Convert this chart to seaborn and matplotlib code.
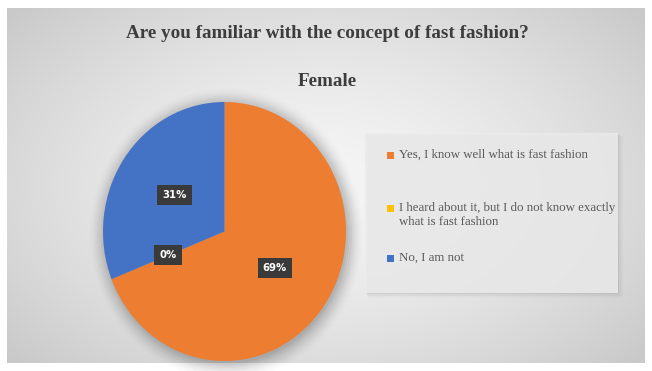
import numpy as np
import pandas as pd
import matplotlib
matplotlib.use("Agg")
import matplotlib.pyplot as plt
from matplotlib.patches import Ellipse, Rectangle
import seaborn as sns

# Survey answers (female respondents)
answers = [
    "Yes, I know well what is fast fashion",
    "I heard about it, but I do not know exactly\nwhat is fast fashion",
    "No, I am not",
]
shares = [69, 0, 31]
colors = ["#ED7D31", "#FFC000", "#4472C4"]
chart_title = "Are you familiar with the concept of fast fashion?"
subtitle = "Female"

df = pd.DataFrame({"answer": answers, "share": shares, "color": colors})

sns.set_theme(style="white")
W, H = 652, 371
fig = plt.figure(figsize=(W / 100, H / 100), dpi=100)
fig.patch.set_facecolor("white")


def fx(px):
    return px / W


def fy(py):
    return 1 - py / H


# Chart area with a soft radial gradient
x0, x1, y0, y1 = 7, 645, 8, 363
bg = fig.add_axes([fx(x0), fy(y1), fx(x1 - x0), (y1 - y0) / H])
bg.set_axis_off()
gx, gy = np.meshgrid(np.linspace(-1, 1, 400), np.linspace(-1, 1, 220))
r = np.sqrt((gx * 0.95) ** 2 + (gy * 0.85) ** 2)
r = np.clip(r / 1.25, 0, 1)
lum = 0.96 - 0.17 * r ** 1.5
bg.imshow(np.dstack([lum, lum, lum]), extent=[0, 1, 0, 1], aspect="auto",
          interpolation="bilinear")
bg.set_xlim(0, 1)
bg.set_ylim(0, 1)

# Titles
fig.text(fx(327), fy(33), chart_title, ha="center", va="center",
         fontsize=13.8, fontweight="bold", family="Liberation Serif", color="#3d3d3d")
fig.text(fx(327), fy(82), subtitle, ha="center", va="center",
         fontsize=13.8, fontweight="bold", family="Liberation Serif", color="#3d3d3d")

# Pie
pl, pr, pt, pb = 103, 346, 102, 361
ax = fig.add_axes([fx(pl), fy(pb), fx(pr - pl), (pb - pt) / H])
ax.set_axis_off()

# soft drop shadow
for i, a in enumerate(np.linspace(0.05, 0.012, 8)):
    ax.add_patch(Ellipse((0.015, -0.02), 2 + 0.035 * i, 2 + 0.035 * i,
                         facecolor="black", alpha=a, edgecolor="none",
                         zorder=0, clip_on=False))

wedges, texts, autotexts = ax.pie(
    df["share"], colors=df["color"], startangle=90, counterclock=False,
    autopct="%1.0f%%", pctdistance=0.5, radius=1.0,
    wedgeprops=dict(linewidth=0, edgecolor="none"),
)
for w in wedges:
    w.set_zorder(2)
    w.set_clip_on(False)
for t in autotexts:
    t.set_color("white")
    t.set_fontsize(7.3)
    t.set_fontweight("bold")
    t.set_family("DejaVu Sans")
    t.set_zorder(5)
    t.set_bbox(dict(boxstyle="square,pad=0.5", facecolor="#3a3a3a",
                    edgecolor="none"))
ax.set_aspect("auto")
ax.set_xlim(-1.0, 1.0)
ax.set_ylim(-1.0, 1.0)

# Legend panel
lg = fig.add_axes([0, 0, 1, 1], facecolor="none")
lg.set_axis_off()
lg.set_xlim(0, W)
lg.set_ylim(H, 0)
for k, a in enumerate([0.05, 0.035, 0.02]):
    lg.add_patch(Rectangle((365 + k + 1, 133 + k + 1), 253 + k, 160 + k,
                           facecolor="black", alpha=a, edgecolor="none"))
lg.add_patch(Rectangle((365, 133), 253, 160, facecolor="#ececec",
                       edgecolor="none", alpha=0.85))
entry_y = [155, 208, 258]
for ans, col, yy in zip(df["answer"], df["color"], entry_y):
    lg.add_patch(Rectangle((387, yy - 3.5), 7, 7, facecolor=col, edgecolor="none"))
    lg.text(399, yy - 6.5, ans, ha="left", va="top", fontsize=9.3,
            family="Liberation Serif", color="#595959", linespacing=1.25)

fig.savefig("out.png", dpi=100, facecolor="white")
